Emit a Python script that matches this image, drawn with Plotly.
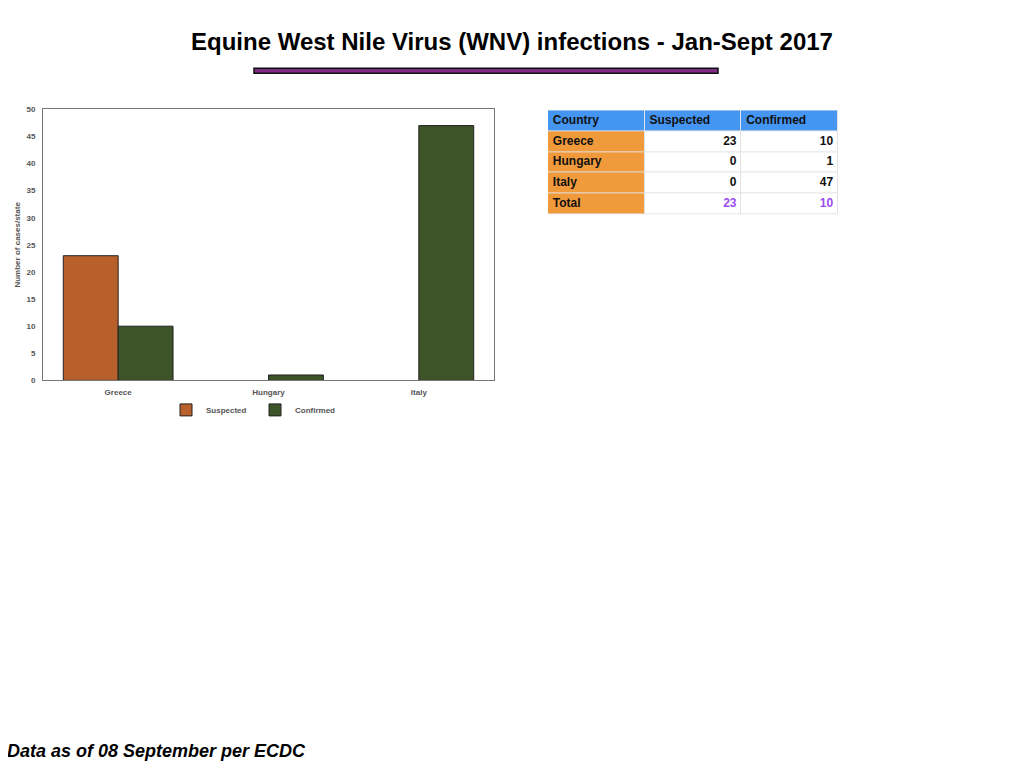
import plotly.graph_objs as go

countries = ['Greece', 'Hungary', 'Italy']
suspected = [23, 0, 0]
confirmed = [10, 1, 47]

table_header = ['Country', 'Suspected', 'Confirmed']
table_rows = ['Greece', 'Hungary', 'Italy', 'Total']
table_suspected = [23, 0, 0, 23]
table_confirmed = [10, 1, 47, 10]

W, H = 1024, 768
OX, OY = 8, 8  # page margin of the html body


def px(x):
    return (x - OX) / W


def py_(y):
    # small vertical correction measured from the rendered page
    y = (y - 3.8) / 0.988
    return 1 - (y - OY) / H


FONT = 'Liberation Sans, Arial, sans-serif'
tick_font = dict(family=FONT, size=8, color='#555555', weight='bold')
cell_font = dict(family=FONT, size=12, color='#111111', weight='bold')

# bars
trace_s = go.Bar(x=countries, y=suspected, name='Suspected', hoverinfo='x+y',
                 marker=dict(color='#B8602C',
                             line=dict(color='#222222', width=[1 if v > 0 else 0 for v in suspected])))
trace_c = go.Bar(x=countries, y=confirmed, name='Confirmed', hoverinfo='x+y',
                 marker=dict(color='#3D5429',
                             line=dict(color='#222222', width=[1 if v > 0 else 0 for v in confirmed])))

# table as a heatmap grid + text
n_rows = len(table_rows) + 1
n_cols = len(table_header)
z = []
for r in range(n_rows):
    row = []
    for c in range(n_cols):
        if r == 0:
            row.append(2)
        elif c == 0:
            row.append(0)
        else:
            row.append(1)
    z.append(row)

grid = go.Heatmap(z=z, x=list(range(n_cols)), y=list(range(n_rows)),
                  xaxis='x2', yaxis='y2', zmin=0, zmax=2, showscale=False,
                  xgap=1, ygap=1, hoverinfo='skip',
                  colorscale=[[0, '#F09A3C'], [0.33, '#F09A3C'], [0.33, '#FFFFFF'],
                              [0.67, '#FFFFFF'], [0.67, '#4595F2'], [1, '#4595F2']])

pad = 0.05
left_x = [c - 0.5 + pad for c in range(n_cols)] + [-0.5 + pad] * len(table_rows)
left_y = [0] * n_cols + list(range(1, n_rows))
left_text = table_header + table_rows
text_left = go.Scatter(x=left_x, y=left_y, text=left_text, mode='text',
                       textposition='middle right', textfont=cell_font,
                       xaxis='x2', yaxis='y2', showlegend=False, hoverinfo='skip')

right_x, right_y, right_text, right_col = [], [], [], []
for c, vals in ((1, table_suspected), (2, table_confirmed)):
    for i, v in enumerate(vals):
        right_x.append(c + 0.5 - pad)
        right_y.append(i + 1)
        right_text.append(str(v))
        right_col.append('#9B4DF0' if table_rows[i] == 'Total' else '#111111')
text_right = go.Scatter(x=right_x, y=right_y, text=right_text, mode='text',
                        textposition='middle left',
                        textfont=dict(family=FONT, size=12, color=right_col, weight='bold'),
                        xaxis='x2', yaxis='y2', showlegend=False, hoverinfo='skip')

layout = go.Layout(
    width=W, height=H,
    margin=dict(l=0, r=0, t=0, b=0),
    paper_bgcolor='white',
    plot_bgcolor='white',
    barmode='group',
    bargap=0.27,
    bargroupgap=0,
    showlegend=True,
    legend=dict(orientation='h', x=px(255), xanchor='center', y=py_(395), yanchor='top',
                bgcolor='rgba(0,0,0,0)',
                font=tick_font, itemwidth=30, entrywidth=44, entrywidthmode='pixels'),
    xaxis=dict(domain=[px(43), px(494)], showline=True, linecolor='#777777', mirror=True,
               tickfont=tick_font, ticks='', showgrid=False, ticklabelstandoff=4,
               fixedrange=True),
    yaxis=dict(domain=[py_(380), py_(109)], range=[0, 50], dtick=5, showline=True,
               linecolor='#777777', mirror=True, tickfont=tick_font, showgrid=False,
               zeroline=False, ticks='', ticklabelstandoff=5, fixedrange=True,
               title=dict(text='Number of cases/state', font=tick_font, standoff=4)),
    xaxis2=dict(domain=[px(548), px(838)], range=[-0.5, n_cols - 0.5], visible=False,
                anchor='y2', fixedrange=True),
    yaxis2=dict(domain=[py_(214), py_(110)], range=[n_rows - 0.5, -0.5], visible=False,
                anchor='x2', fixedrange=True),
    shapes=[
        dict(type='rect', xref='paper', yref='paper',
             x0=px(254), x1=px(718), y0=py_(73), y1=py_(68),
             fillcolor='#7E2A82', line=dict(color='#111111', width=1.5)),
        dict(type='rect', xref='x2 domain', yref='y2 domain', x0=0, x1=1, y0=0, y1=1,
             fillcolor='#E2E2E2', line=dict(width=0), layer='below'),
    ],
    annotations=[
        dict(text='<b>Equine West Nile Virus (WNV) infections - Jan-Sept 2017</b>',
             xref='paper', yref='paper', x=px(512), y=py_(41), showarrow=False,
             xanchor='center', yanchor='middle',
             font=dict(family=FONT, size=24, color='black')),
        dict(text='<b><i>Data as of 08 September per ECDC</i></b>',
             xref='paper', yref='paper', x=px(5), y=py_(750), showarrow=False,
             xanchor='left', yanchor='middle',
             font=dict(family=FONT, size=18, color='black')),
    ],
)

fig = go.Figure(data=[trace_s, trace_c, grid, text_left, text_right], layout=layout)
fig.write_html('out.html')
